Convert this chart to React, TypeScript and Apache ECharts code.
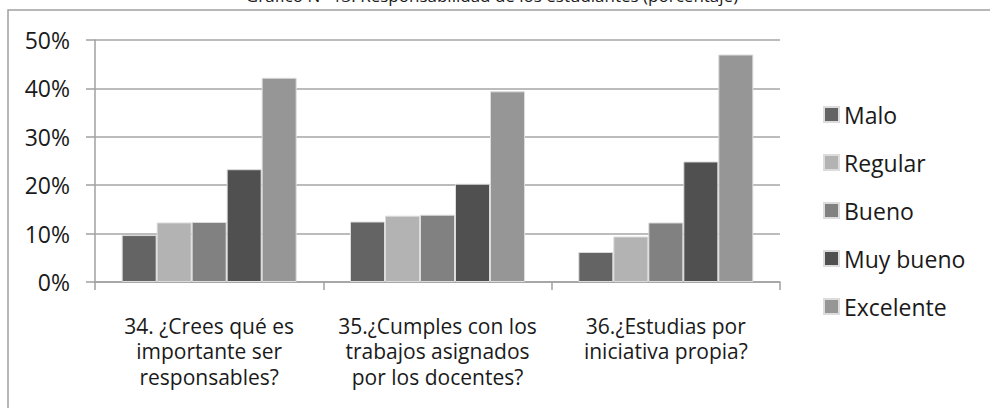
import React, { useEffect, useRef } from "react";
import * as echarts from "echarts";

const categories = [
  "34. ¿Crees qué es\nimportante ser\nresponsables?",
  "35.¿Cumples con los\ntrabajos asignados\npor los docentes?",
  "36.¿Estudias por\niniciativa propia?",
];
const seriesNames = ["Malo", "Regular", "Bueno", "Muy bueno", "Excelente"];
const malo = [9.7, 12.5, 6.2];
const regular = [12.3, 13.7, 9.4];
const bueno = [12.4, 13.9, 12.3];
const muyBueno = [23.3, 20.3, 24.9];
const excelente = [42.2, 39.4, 47.0];
const seriesValues = [malo, regular, bueno, muyBueno, excelente];
const seriesColors = ["#646464", "#b3b3b3", "#818181", "#505050", "#969696"];
const titleText = "Gráfico N° 13. Responsabilidad de los estudiantes (porcentaje)";

const FONT = "'Open Sans', sans-serif";
const TEXT_COLOR = "#1a1a1a";

export default function App() {
  const ref = useRef<HTMLDivElement>(null);
  useEffect(() => {
    if (!ref.current) return;
    const chart = echarts.init(ref.current, null, { renderer: "svg" });
    chart.setOption({
      animation: false,
      backgroundColor: "#ffffff",
      textStyle: { fontFamily: FONT, color: TEXT_COLOR },
      graphic: [
        {
          type: "rect",
          shape: { x: 8, y: 10, width: 1200, height: 600 },
          style: { fill: "none", stroke: "#a0a0a0", lineWidth: 1.5 },
          silent: true,
        },
        {
          type: "text",
          x: 492,
          y: 4,
          style: {
            text: titleText,
            fontFamily: FONT,
            fontSize: 17,
            fill: TEXT_COLOR,
            align: "center",
            verticalAlign: "bottom",
          },
        },
      ],
      grid: { left: 95, right: 210, top: 40, bottom: 126, containLabel: false },
      legend: {
        orient: "vertical",
        left: 818,
        top: 98,
        icon: "rect",
        itemWidth: 15,
        itemHeight: 15,
        itemGap: 25,
        textStyle: { fontFamily: FONT, fontSize: 23, color: TEXT_COLOR },
        data: seriesNames,
      },
      xAxis: {
        type: "category",
        data: categories,
        axisLine: { show: true, lineStyle: { color: "#a0a0a0", width: 1.5 } },
        axisTick: { show: true, length: 8, lineStyle: { color: "#a0a0a0", width: 1.5 } },
        axisLabel: {
          interval: 0,
          margin: 31,
          fontFamily: FONT,
          fontSize: 21,
          lineHeight: 25.5,
          color: TEXT_COLOR,
          align: "center",
          verticalAlign: "top",
        },
      },
      yAxis: {
        type: "value",
        min: 0,
        max: 50,
        interval: 10,
        axisLine: { show: true, lineStyle: { color: "#a0a0a0", width: 1.5 } },
        axisTick: { show: true, inside: false, length: 9, lineStyle: { color: "#a0a0a0", width: 1.5 } },
        splitLine: { show: true, lineStyle: { color: "#a6a6a6", width: 1.5 } },
        axisLabel: {
          formatter: "{value}%",
          margin: 25,
          fontFamily: FONT,
          fontSize: 23,
          color: TEXT_COLOR,
        },
      },
      series: seriesNames.map((name, i) => ({
        name,
        type: "bar",
        data: seriesValues[i],
        barWidth: 35,
        barGap: "0%",
        itemStyle: { color: seriesColors[i], borderColor: "#dcdcdc", borderWidth: 1 },
      })),
    });
    return () => chart.dispose();
  }, []);
  return (
    <div
      ref={ref}
      style={{ position: "fixed", left: 0, top: 0, width: 990, height: 408 }}
    />
  );
}
